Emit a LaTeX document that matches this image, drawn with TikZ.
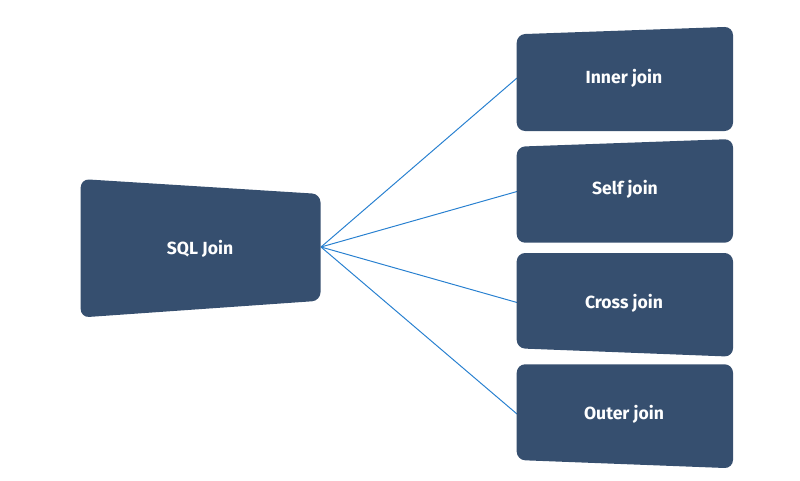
\documentclass[tikz,border=0pt]{standalone}
\usepackage{fontspec}
\setmainfont{Fira Sans}
\usepackage{xcolor}
\definecolor{BoxCol}{RGB}{54,79,111}
\definecolor{LinkCol}{RGB}{40,128,208}
\tikzstyle{BoxShape}=[fill=BoxCol,rounded corners=6pt]
\tikzstyle{BoxText}=[text=white,inner sep=1pt,font=\fontsize{12.5}{15}\selectfont\bfseries]
\tikzstyle{Link}=[LinkCol,line width=0.7pt]

\begin{document}
\begin{tikzpicture}[x=0.025cm,y=-0.025cm]
        \useasboundingbox(0,0)rectangle(800,480);
        \coordinate(sqlout)at(321,247);
        \coordinate(innerin)at(517,78);
        \coordinate(selfin)at(517,191.5);
        \coordinate(crossin)at(517,302.5);
        \coordinate(outerin)at(517,414);
        \draw[Link](sqlout)--(innerin);
        \draw[Link](sqlout)--(selfin);
        \draw[Link](sqlout)--(crossin);
        \draw[Link](sqlout)--(outerin);
        \fill[BoxShape](80.7,179)--(320.5,194)--(320.5,300.7)--(80.7,317.5)--cycle;
        \fill[BoxShape](516.7,34.3)--(733,26.7)--(733,131)--(516.7,131)--cycle;
        \fill[BoxShape](516.7,146.7)--(733,139)--(733,242.7)--(516.7,242.7)--cycle;
        \fill[BoxShape](516.7,253)--(733,253)--(733,356.7)--(516.7,348.3)--cycle;
        \fill[BoxShape](516.7,364.3)--(733,364.3)--(733,468.3)--(516.7,460)--cycle;
        \node[BoxText](sql)at(200,249){SQL Join};
        \node[BoxText](inner)at(624,78){Inner join};
        \node[BoxText](self)at(625,189){Self join};
        \node[BoxText](cross)at(624,303){Cross join};
        \node[BoxText](outer)at(624,414){Outer join};
    \end{tikzpicture}
\end{document}
